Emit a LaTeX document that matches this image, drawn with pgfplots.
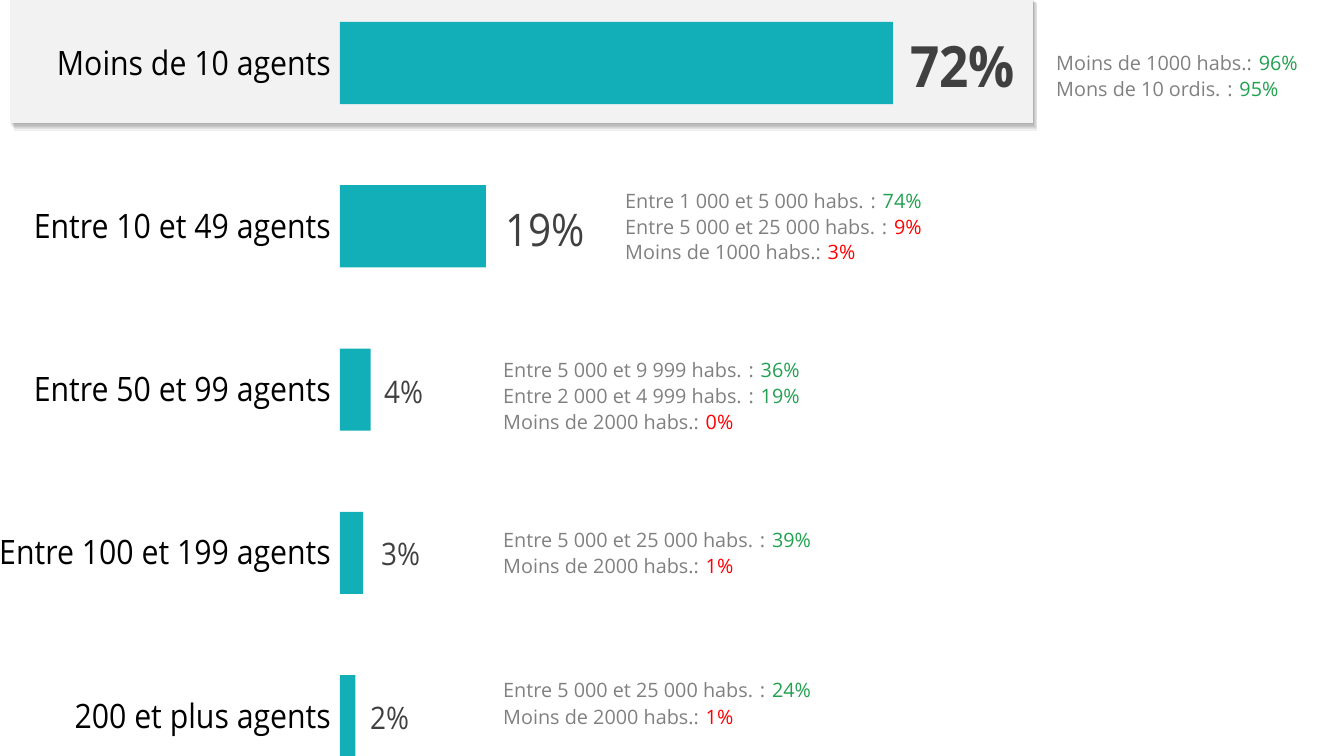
\documentclass[border=0pt]{standalone}
\usepackage{fontspec}
\setmainfont{Open Sans}[FakeStretch=0.9]
\newfontfamily\notefam{Open Sans}
\usepackage{pgfplots}
\pgfplotsset{compat=1.18}
\definecolor{barcol}{HTML}{13AFB8}
\definecolor{valcol}{HTML}{404040}
\definecolor{notecol}{HTML}{808080}
\definecolor{goodcol}{HTML}{21A04F}
\definecolor{badcol}{HTML}{FF0000}
\definecolor{boxcol}{HTML}{F2F2F2}
\newcommand{\catfont}{\fontsize{33.6bp}{40bp}\selectfont}
\newcommand{\notefont}{\notefam\fontsize{19.8bp}{24bp}\selectfont}
\begin{document}
\begin{tikzpicture}
\useasboundingbox (0,0) rectangle (1320bp,756bp);
% highlight box with soft shadow
\foreach \s in {1,...,6}{
  \fill[black,opacity=0.06] ({10bp+\s*0.7bp},{633bp-\s*1.3bp}) rectangle ({1033bp+\s*0.7bp},{756bp-\s*0.5bp});
}
\fill[boxcol] (10bp,633bp) rectangle (1033bp,756bp);
\begin{axis}[
  at={(340bp,0bp)}, anchor=south west, scale only axis,
  width=980bp, height=756bp,
  xmin=0, xmax=127.6, ymin=-0.245, ymax=4.386,
  xbar, bar width=82bp,
  axis lines=left,
  x axis line style={draw=none}, y axis line style={draw=none},
  xtick=\empty,
  ytick={0,1,2,3,4},
  yticklabels={200 et plus agents, Entre 100 et 199 agents, Entre 50 et 99 agents, Entre 10 et 49 agents, Moins de 10 agents},
  major tick length=0pt,
  yticklabel style={font=\catfont, text=black, inner sep=0pt, anchor=east, xshift=-9bp, yshift=-4bp},
  clip=false,
]
\addplot[fill=barcol, draw=none] coordinates {(2,0) (3,1) (4,2) (19,3) (72,4)};
\end{axis}
% value labels
\node[anchor=west, inner sep=0pt, text=valcol, font=\fontsize{57bp}{60bp}\selectfont\bfseries] at (910bp,689bp) {72\%};
\node[anchor=west, inner sep=0pt, text=valcol, font=\fontsize{45bp}{48bp}\selectfont] at (505bp,526bp) {19\%};
\node[anchor=west, inner sep=0pt, text=valcol, font=\fontsize{31bp}{36bp}\selectfont] at (384bp,364bp) {4\%};
\node[anchor=west, inner sep=0pt, text=valcol, font=\fontsize{31bp}{36bp}\selectfont] at (381bp,202bp) {3\%};
\node[anchor=west, inner sep=0pt, text=valcol, font=\fontsize{31bp}{36bp}\selectfont] at (370bp,38bp) {2\%};
% notes
\begin{scope}[every node/.style={anchor=base west, inner sep=0pt, text=notecol, font=\notefont}]
\node at (1056bp,{756bp-71bp}) {Moins de 1000 habs.: \textcolor{goodcol}{96\%}};
\node at (1056bp,{756bp-97bp}) {Mons de 10 ordis. : \textcolor{goodcol}{95\%}};
\node at (625bp,{756bp-209bp}) {Entre 1 000 et 5 000 habs. : \textcolor{goodcol}{74\%}};
\node at (625bp,{756bp-235bp}) {Entre 5 000 et 25 000 habs. : \textcolor{badcol}{9\%}};
\node at (625bp,{756bp-260bp}) {Moins de 1000 habs.: \textcolor{badcol}{3\%}};
\node at (503bp,{756bp-378bp}) {Entre 5 000 et 9 999 habs. : \textcolor{goodcol}{36\%}};
\node at (503bp,{756bp-404bp}) {Entre 2 000 et 4 999 habs. : \textcolor{goodcol}{19\%}};
\node at (503bp,{756bp-430bp}) {Moins de 2000 habs.: \textcolor{badcol}{0\%}};
\node at (503bp,{756bp-548bp}) {Entre 5 000 et 25 000 habs. : \textcolor{goodcol}{39\%}};
\node at (503bp,{756bp-574bp}) {Moins de 2000 habs.: \textcolor{badcol}{1\%}};
\node at (503bp,{756bp-698bp}) {Entre 5 000 et 25 000 habs. : \textcolor{goodcol}{24\%}};
\node at (503bp,{756bp-724bp}) {Moins de 2000 habs.: \textcolor{badcol}{1\%}};
\end{scope}
\end{tikzpicture}
\end{document}
